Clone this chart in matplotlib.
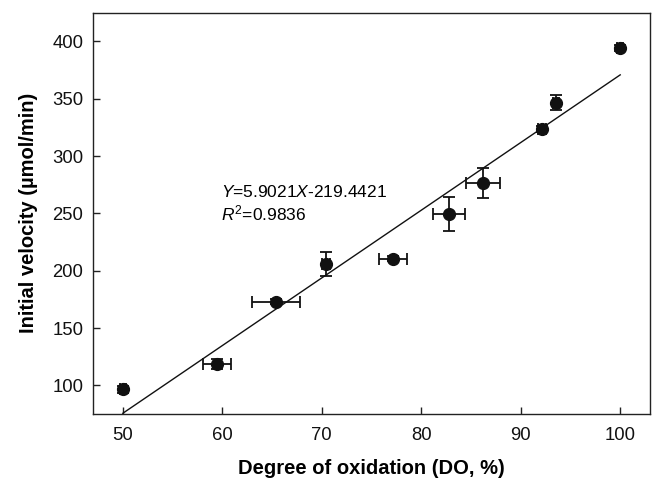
import numpy as np
import matplotlib
matplotlib.use('Agg')
import matplotlib.pyplot as plt

plt.rcParams.update({'font.family': 'Liberation Sans',
                     'font.size': 13,
                     'mathtext.fontset': 'custom',
                     'mathtext.rm': 'Liberation Sans',
                     'mathtext.it': 'Liberation Sans:italic'})

# degree of oxidation (%) and initial velocity (umol/min)
do_pct = [50.0, 59.5, 65.4, 70.4, 77.2, 82.8, 86.2, 92.1, 93.5, 100.0]
velocity = [96.5, 118.6, 172.9, 205.8, 210.5, 249.3, 276.4, 323.6, 346.3, 394.2]
do_err = [0.3, 1.4, 2.4, 0.4, 1.4, 1.6, 1.75, 0.4, 0.3, 0.3]
vel_err = [3.0, 4.0, 2.0, 10.5, 2.0, 15.0, 12.8, 3.0, 6.6, 3.0]

slope = 5.9021
intercept = -219.4421
r2 = 0.9836
fit_x = [50, 100]

ink = '#111111'

fig, ax = plt.subplots(figsize=(6.52, 4.82), dpi=100)
fig.subplots_adjust(left=0.1426, right=0.997, bottom=0.141, top=0.9737)

ax.errorbar(do_pct, velocity, xerr=do_err, yerr=vel_err, fmt='o', color=ink,
            markersize=8.5, elinewidth=1.3, capsize=4.5, capthick=1.3, zorder=3)

fx = np.array(fit_x, dtype=float)
ax.plot(fx, slope * fx + intercept, color=ink, lw=1.0)

ax.text(59.9, 269.0, r'$\mathit{Y}$=%.4f$\mathit{X}$%.4f' % (slope, intercept),
        va='center', ha='left', fontsize=12.5)
ax.text(59.9, 249.5, r'$\mathit{R}^{2}$=%.4f' % r2, va='center', ha='left', fontsize=12.5)

ax.set_xlim(47, 103)
ax.set_ylim(75, 425)
ax.set_xticks([50, 60, 70, 80, 90, 100])
ax.set_yticks([100, 150, 200, 250, 300, 350, 400])
ax.tick_params(direction='in', length=5, width=1, colors='#222222', labelcolor='#111111',
               labelsize=13.3, pad=7)
ax.tick_params(axis='x', pad=9)
for s in ax.spines.values():
    s.set_linewidth(1.0)
    s.set_color('#222222')

ax.set_xlabel('Degree of oxidation (DO, %)', fontweight='bold', fontsize=14.5, labelpad=11)
ax.set_ylabel('Initial velocity (\u00b5mol/min)', fontweight='bold', fontsize=14.5, labelpad=10)

plt.savefig('out.png', dpi=100)
